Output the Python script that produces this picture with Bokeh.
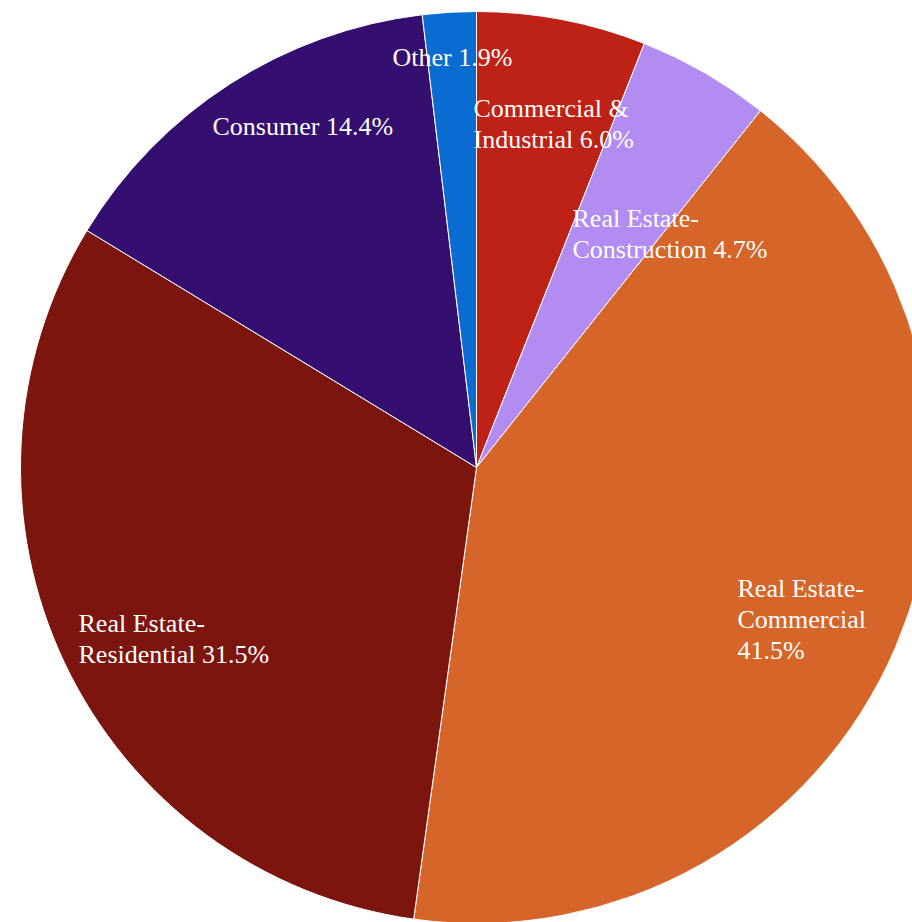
import math
from bokeh.plotting import figure
from bokeh.models import Range1d, ColumnDataSource
from bokeh.core.properties import value
from bokeh.embed import file_html
from bokeh.resources import INLINE

# ---- data ----
categories = ["Commercial & Industrial", "Real Estate-Construction", "Real Estate-Commercial",
              "Real Estate-Residential", "Consumer", "Other"]
shares = [6.0, 4.7, 41.5, 31.5, 14.4, 1.9]
label_texts = ["Commercial &\nIndustrial 6.0%", "Real Estate-\nConstruction 4.7%",
               "Real Estate-\nCommercial\n41.5%", "Real Estate-\nResidential 31.5%",
               "Consumer 14.4%", "Other 1.9%"]

# ---- styles / layout ----
colors = ["#BE2116", "#B28CF0", "#D6652A", "#7C150E", "#340F70", "#0A6CD0"]
W, H = 912, 922
CX, CY, R = 476, 467, 456          # pixel coords (y down)
# label first-line baseline positions (pixel coords, y down)
label_x = [473, 572, 737, 78, 212, 392]
label_base = [117, 227, 597, 632, 135, 66]
FS = 26

total = sum(shares)
starts, ends = [], []
c = 0.0
for s in shares:
    starts.append(math.pi / 2 - 2 * math.pi * c / total)
    c += s
    ends.append(math.pi / 2 - 2 * math.pi * c / total)

src = ColumnDataSource(dict(cat=categories, share=shares, start=starts, end=ends, color=colors))

p = figure(width=W, height=H, output_backend="svg", toolbar_location=None,
           x_range=Range1d(0, W), y_range=Range1d(0, H), min_border=0)
p.axis.visible = False
p.grid.visible = False
p.outline_line_color = None
p.background_fill_color = "white"
p.border_fill_color = "white"

p.wedge(x=CX, y=H - CY, radius=R, start_angle="start", end_angle="end", direction="clock",
        fill_color="color", line_color="white", line_width=1, source=src)

ascent = 0.891 * FS
lsrc = ColumnDataSource(dict(x=label_x, y=[H - (b - ascent) for b in label_base], t=label_texts))
p.text(x="x", y="y", text="t", source=lsrc, text_color="white",
       text_font=value("Liberation Serif"),
       text_font_size=f"{FS}px", text_align="left", text_baseline="top", text_line_height=1.07)

open("out.html", "w").write(file_html(p, INLINE))
